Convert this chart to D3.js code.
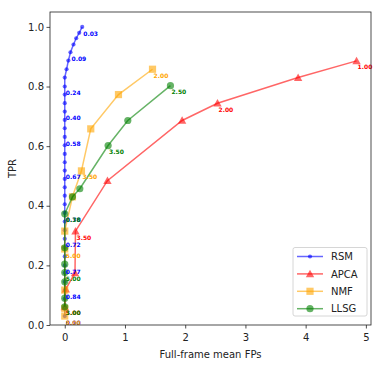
<!DOCTYPE html>
<html>
<head>
<meta charset="utf-8">
<script src="https://cdn.jsdelivr.net/npm/d3@7"></script>
<style>
  body { margin: 0; background: #fff; }
  svg text { font-family: "DejaVu Sans", sans-serif; }
</style>
</head>
<body>
<div id="chart"></div>
<script>
// data (ordered from low threshold to high threshold)
const rsmFP  = [0.29, 0.24, 0.19, 0.145, 0.095, 0.06, 0.03, 0, 0, 0, 0, 0, 0, 0, 0, 0, 0, 0, 0, 0, 0, 0, 0, 0, 0, 0, 0, 0, 0, 0, 0, 0, 0, 0, 0, 0]
const rsmTPR = [1.0, 0.98, 0.962, 0.941, 0.915, 0.887, 0.858, 0.83, 0.80, 0.773, 0.744, 0.716, 0.688, 0.66, 0.631, 0.603, 0.574, 0.546, 0.518, 0.49, 0.462, 0.434, 0.405, 0.376, 0.347, 0.318, 0.289, 0.26, 0.23, 0.2, 0.175, 0.145, 0.117, 0.088, 0.06, 0.03]
const rsmLab = {0: "0.03", 4: "0.09", 8: "0.24", 11: "0.40", 14: "0.58", 18: "0.67", 23: "0.70", 26: "0.72", 29: "0.77", 32: "0.84", 35: "0.90"}

const apcaFP  = [4.845, 3.875, 2.536, 1.949, 0.709, 0.178, 0.17, 0.017, 0.0]
const apcaTPR = [0.886, 0.83, 0.744, 0.686, 0.484, 0.315, 0.175, 0.12, 0.061]
const apcaLab = {0: "1.00", 2: "2.00", 5: "3.50", 8: "5.00"}

const nmfFP  = [1.457, 0.892, 0.432, 0.277, 0.128, 0.0, 0.0, 0.0, 0.0, 0.0]
const nmfTPR = [0.858, 0.773, 0.658, 0.517, 0.43, 0.315, 0.255, 0.117, 0.056, 0.03]
const nmfLab = {0: "2.00", 3: "3.50", 6: "5.00", 9: "8.00"}

const llsgFP  = [1.755, 1.047, 0.72, 0.25, 0.128, 0.0, 0.0, 0.0, 0.0, 0.0, 0.0, 0.0]
const llsgTPR = [0.803, 0.686, 0.602, 0.457, 0.43, 0.373, 0.259, 0.204, 0.176, 0.145, 0.09, 0.061]
const llsgLab = {0: "2.50", 2: "3.50", 5: "0.38", 8: "5.00", 11: "3.00"}

const xTicks = [0, 1, 2, 3, 4, 5]
const yTicks = [0.0, 0.2, 0.4, 0.6, 0.8, 1.0]

const series = [
  {name: "RSM",  fp: rsmFP,  tpr: rsmTPR,  lab: rsmLab,  color: "blue",   marker: "dot"},
  {name: "APCA", fp: apcaFP, tpr: apcaTPR, lab: apcaLab, color: "red",    marker: "tri"},
  {name: "NMF",  fp: nmfFP,  tpr: nmfTPR,  lab: nmfLab,  color: "orange", marker: "sq"},
  {name: "LLSG", fp: llsgFP, tpr: llsgTPR, lab: llsgLab, color: "green",  marker: "circ"}
]

const width = 384, height = 368
const mLeft = 50, mRight = 371, mTop = 12, mBottom = 325

const x = d3.scaleLinear().domain([-0.245, 5.085]).range([mLeft, mRight])
const y = d3.scaleLinear().domain([0, 1.05]).range([mBottom, mTop])

const svg = d3.select("#chart").append("svg")
  .attr("width", width).attr("height", height)

function drawMarker(g, kind, color, cx, cy) {
  if (kind === "dot") {
    g.append("circle").attr("cx", cx).attr("cy", cy).attr("r", 2.1)
      .attr("fill", color).attr("fill-opacity", 0.6)
  } else if (kind === "circ") {
    g.append("circle").attr("cx", cx).attr("cy", cy).attr("r", 3.6)
      .attr("fill", color).attr("fill-opacity", 0.6)
  } else if (kind === "sq") {
    g.append("rect").attr("x", cx - 3.6).attr("y", cy - 3.6).attr("width", 7.2).attr("height", 7.2)
      .attr("fill", color).attr("fill-opacity", 0.6)
  } else {
    const s = 4.2
    g.append("path")
      .attr("d", `M${cx},${cy - s} L${cx + s},${cy + s * 0.8} L${cx - s},${cy + s * 0.8} Z`)
      .attr("fill", color).attr("fill-opacity", 0.6)
  }
}

// axes
const xAxis = svg.append("g").attr("transform", `translate(0,${mBottom})`)
  .call(d3.axisBottom(x).tickValues(xTicks).tickFormat(d3.format("d")).tickSizeOuter(0).tickSize(3.5))
const yAxis = svg.append("g").attr("transform", `translate(${mLeft},0)`)
  .call(d3.axisLeft(y).tickValues(yTicks).tickFormat(d3.format(".1f")).tickSizeOuter(0).tickSize(3.5))
xAxis.select(".domain").remove()
yAxis.select(".domain").remove()
svg.selectAll(".tick text").attr("font-size", 10).attr("fill", "#222")
  .attr("font-family", "DejaVu Sans, sans-serif")
xAxis.selectAll(".tick text").attr("dy", "0.95em")
yAxis.selectAll(".tick text").attr("x", -6)
svg.selectAll(".tick line").attr("stroke", "#222").attr("stroke-width", 0.8)

// series
series.forEach(s => {
  const pts = s.fp.map((v, i) => [v, s.tpr[i]])
  const g = svg.append("g")
  g.append("path").datum(pts)
    .attr("d", d3.line().x(d => x(d[0])).y(d => y(d[1])))
    .attr("fill", "none").attr("stroke", s.color)
    .attr("stroke-opacity", 0.6).attr("stroke-width", 1.5)
  pts.forEach(d => drawMarker(g, s.marker, s.color, x(d[0]), y(d[1])))
})

// threshold labels
series.forEach(s => {
  Object.keys(s.lab).forEach(k => {
    const i = +k
    svg.append("text")
      .attr("x", x(s.fp[i]) + 1)
      .attr("y", y(s.tpr[i]) + 8.6)
      .attr("font-size", 6)
      .attr("font-weight", "bold")
      .attr("fill", s.color)
      .text(s.lab[k])
  })
})

// frame
svg.append("rect").attr("x", mLeft).attr("y", mTop)
  .attr("width", mRight - mLeft).attr("height", mBottom - mTop)
  .attr("fill", "none").attr("stroke", "#222").attr("stroke-width", 0.8)

// legend
const lg = svg.append("g")
lg.append("rect").attr("x", 293).attr("y", 247.5).attr("width", 74).attr("height", 68.5)
  .attr("rx", 2).attr("fill", "white").attr("fill-opacity", 0.8)
  .attr("stroke", "#ccc").attr("stroke-width", 0.8)
series.forEach((s, i) => {
  const ly = 256.5 + i * 17.4
  lg.append("line").attr("x1", 297).attr("x2", 323).attr("y1", ly).attr("y2", ly)
    .attr("stroke", s.color).attr("stroke-opacity", 0.6).attr("stroke-width", 1.5)
  drawMarker(lg, s.marker, s.color, 310, ly)
  lg.append("text").attr("x", 331).attr("y", ly + 3.6)
    .attr("font-size", 10).attr("fill", "#222").text(s.name)
})

// axis titles
svg.append("text").attr("x", (mLeft + mRight) / 2).attr("y", 358)
  .attr("text-anchor", "middle").attr("font-size", 10).attr("fill", "#222")
  .text("Full-frame mean FPs")
svg.append("text").attr("transform", `translate(16,${(mTop + mBottom) / 2}) rotate(-90)`)
  .attr("text-anchor", "middle").attr("font-size", 10).attr("fill", "#222")
  .text("TPR")
</script>
</body>
</html>
